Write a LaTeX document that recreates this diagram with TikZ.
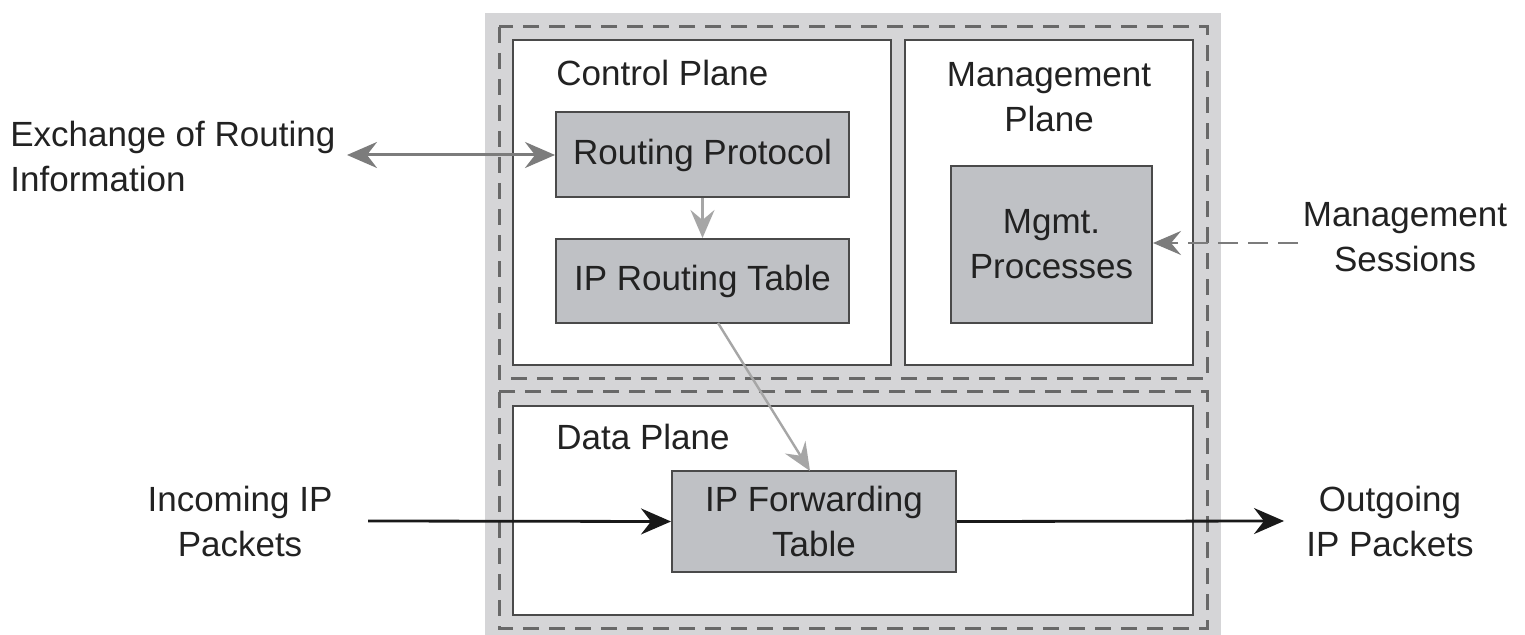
\documentclass[tikz,border=0pt]{standalone}
\usepackage{fontspec}
\setmainfont{Liberation Sans}
\usetikzlibrary{arrows.meta}
\definecolor{framegray}{HTML}{D5D5D7}
\definecolor{boxfill}{HTML}{BFC1C5}
\definecolor{edgegray}{HTML}{4A4A4A}
\definecolor{dashgray}{HTML}{686868}
\definecolor{txt}{HTML}{222222}
\definecolor{arrowgray}{HTML}{7C7C7C}
\definecolor{lightarrow}{HTML}{A6A6A6}
\tikzset{
  lbl/.style={font=\fontsize{17.5pt}{22.5pt}\selectfont, text=txt, align=center, inner sep=0pt},
  procbox/.style={draw=edgegray, line width=1pt, fill=boxfill, lbl},
  planebox/.style={draw=edgegray, line width=1.1pt, fill=white},
  groupbox/.style={draw=dashgray, line width=1.5pt, dash pattern=on 8pt off 5pt},
  bigtip/.style={-{Stealth[length=15pt,width=13pt,inset=5pt]}},
}
\begin{document}
\begin{tikzpicture}[x=0.5pt,y=-0.5pt]
\useasboundingbox (0,0) rectangle (1525,635);

% grey frame and the two dashed groups
\fill[framegray] (485,13) rectangle (1221,640);
\draw[groupbox] (499,27) rectangle (1207,379);
\draw[groupbox] (499,392) rectangle (1207,628);

% planes
\draw[planebox] (513,40) rectangle (891,365);
\draw[planebox] (905,40) rectangle (1193,365);
\draw[planebox] (513,406) rectangle (1193,615);

\node[lbl, anchor=base west] (cplabel) at (556,86) {Control Plane};
\node[lbl] (mplabel) at (1049,97) {Management\\Plane};
\node[lbl, anchor=base west] (dplabel) at (556,450) {Data Plane};

% processes
\node[procbox, minimum width=146.5pt, minimum height=42.5pt] (rp) at (702.5,155) {Routing Protocol};
\node[procbox, minimum width=146.5pt, minimum height=42pt] (rt) at (702.5,281) {IP Routing Table};
\node[procbox, minimum width=100.5pt, minimum height=78.5pt] (mp) at (1051.5,244.5) {Mgmt.\\Processes};
\node[procbox, minimum width=142pt, minimum height=50.5pt] (ft) at (814,521.5) {IP Forwarding\\Table};

% outside labels
\node[lbl, align=left, anchor=west] (exch) at (10,156) {Exchange of Routing\\Information};
\node[lbl] (inc) at (240,521) {Incoming IP\\Packets};
\node[lbl] (outg) at (1390,521) {Outgoing\\IP Packets};
\node[lbl] (msess) at (1405,237) {Management\\Sessions};

\coordinate (exchend) at (347,155);
\coordinate (incstart) at (368,521);
\coordinate (outend) at (1284,521);
\coordinate (msstart) at (1298,243);

% connectors
\draw[arrowgray, line width=1.5pt, {Stealth[length=15pt,width=13pt,inset=5pt]}-{Stealth[length=15pt,width=13pt,inset=5pt]}] (exchend) -- (rp.west);
\draw[lightarrow, line width=1.3pt, -{Stealth[length=14pt,width=12pt,inset=5pt]}] (rp.south) -- (rt.north);
\draw[lightarrow, line width=1.2pt, -{Stealth[length=14pt,width=12pt,inset=5pt]}] (718,323) -- (810,471);
\draw[arrowgray, line width=1.4pt, dash pattern=on 10pt off 5pt, -{Stealth[length=14pt,width=12pt,inset=5pt]}] (msstart) -- (mp.east |- msstart);
\draw[black!90, line width=1.4pt, bigtip] (incstart) -- (ft.west);
\draw[black!90, line width=1.4pt, bigtip] (ft.east) -- (outend);
\end{tikzpicture}
\end{document}
